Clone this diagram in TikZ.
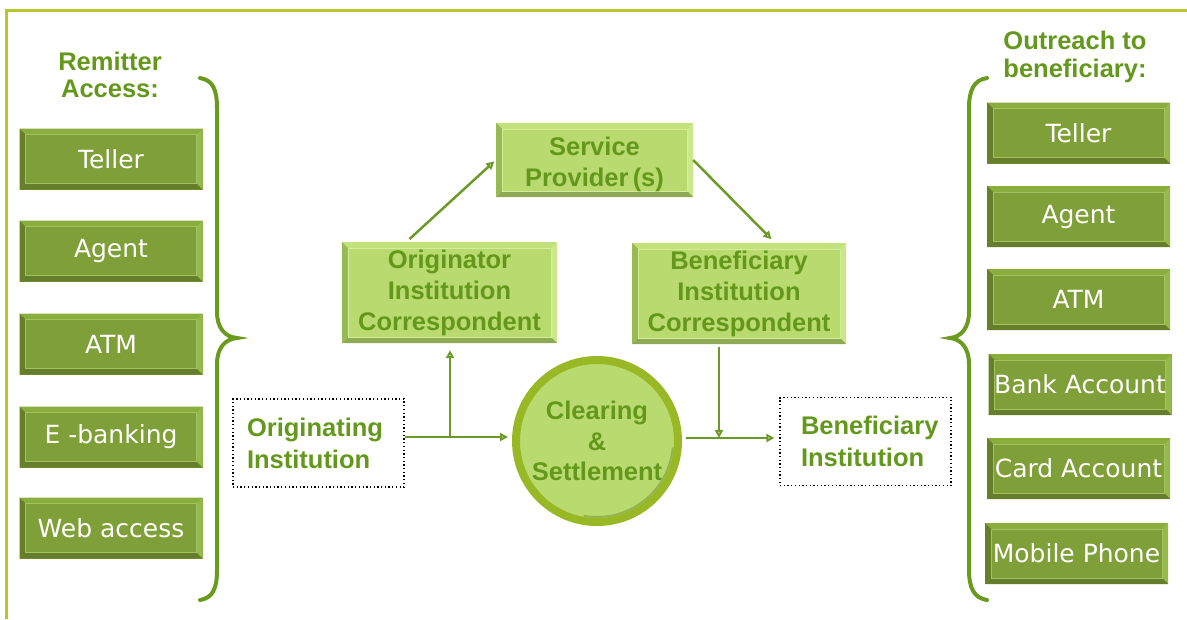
\documentclass[tikz,border=0pt]{standalone}
\usepackage{fontspec}
\setmainfont{Liberation Sans}
\newfontfamily\tilefont{DejaVu Sans}
\usetikzlibrary{arrows.meta}

\definecolor{framegreen}{RGB}{181,199,42}
\definecolor{bracegreen}{RGB}{106,154,30}
\definecolor{textgreen}{RGB}{100,152,28}
\definecolor{linkgreen}{RGB}{108,154,40}
\definecolor{ringgreen}{RGB}{152,184,38}
\definecolor{tiledark}{RGB}{127,160,56}
\definecolor{tiledarktop}{RGB}{138,174,62}
\definecolor{tiledarkright}{RGB}{150,185,75}
\definecolor{tiledarkleft}{RGB}{102,128,42}
\definecolor{tiledarkbot}{RGB}{101,126,44}
\definecolor{tiledarkline}{RGB}{162,194,98}
\definecolor{tilelight}{RGB}{185,218,110}
\definecolor{tilelighttop}{RGB}{194,225,125}
\definecolor{tilelightright}{RGB}{202,231,140}
\definecolor{tilelightleft}{RGB}{152,186,84}
\definecolor{tilelightbot}{RGB}{143,170,84}
\definecolor{tilelightline}{RGB}{210,236,152}

\tikzset{
  bevelbox/.style={fill=#1, inner sep=0pt, path picture={
    \path (path picture bounding box.south west) coordinate (bsw)
          (path picture bounding box.north east) coordinate (bne)
          (path picture bounding box.north west) coordinate (bnw)
          (path picture bounding box.south east) coordinate (bse);
    \fill[#1top] (bnw) -- (bne) -- ([shift={(-6pt,-6pt)}]bne) -- ([shift={(6pt,-6pt)}]bnw) -- cycle;
    \fill[#1right] (bne) -- (bse) -- ([shift={(-6pt,6pt)}]bse) -- ([shift={(-6pt,-6pt)}]bne) -- cycle;
    \fill[#1bot] (bse) -- (bsw) -- ([shift={(6pt,6pt)}]bsw) -- ([shift={(-6pt,6pt)}]bse) -- cycle;
    \fill[#1left] (bsw) -- (bnw) -- ([shift={(6pt,-6pt)}]bnw) -- ([shift={(6pt,6pt)}]bsw) -- cycle;
    \draw[#1line, line width=0.6pt] ([shift={(6pt,6pt)}]bsw) rectangle ([shift={(-6pt,-6pt)}]bne);
  }},
  tile/.style={bevelbox=tiledark, minimum width=183pt, minimum height=61pt,
    text=white, font=\tilefont\fontsize{25}{28}\selectfont},
  midbox/.style={bevelbox=tilelight, align=center, text=textgreen,
    font=\bfseries\fontsize{25.5}{31}\selectfont},
  instbox/.style={draw=black, line width=1.3pt, dash pattern=on 1.3pt off 2.4pt,
    minimum width=171pt, minimum height=88pt, align=left, text=textgreen,
    font=\bfseries\fontsize{25.5}{32}\selectfont},
  heading/.style={align=center, text=textgreen, font=\bfseries\fontsize{25.5}{27.5}\selectfont},
  link/.style={draw=linkgreen, line width=2.5pt, -{Triangle[open,length=8pt,width=8pt]}},
  brace/.style={draw=bracegreen, line width=4pt, line cap=round},
}

\begin{document}
\begin{tikzpicture}[x=1pt,y=-1pt]
  \useasboundingbox (0,0) rectangle (1187,619);
  \draw[framegreen, line width=3pt] (6,619) -- (6,10) -- (1187,10);

  % remitter side
  \node[heading] (remit) at (110,75) {Remitter\\Access:};
  \node[tile] (rteller) at (111,159) {Teller};
  \node[tile] (ragent) at (111,251) {Agent};
  \node[tile] (ratm) at (111,344) {ATM};
  \node[tile] (rebank) at (111,437) {E -banking};
  \node[tile] (rweb) at (111,528) {Web access};
  \draw[brace] (200,78) .. controls (213,80) and (217,90) .. (217,108) -- (217,312)
    .. controls (217,328) and (225,337) .. (237,338)
    .. controls (225,339) and (217,348) .. (217,364) -- (217,570)
    .. controls (217,588) and (213,598) .. (200,600);

  % beneficiary side
  \node[heading] (outreach) at (1075,57) {Outreach to\\beneficiary:};
  \node[tile] (bteller) at (1078.5,133) {Teller};
  \node[tile] (bagent) at (1078.5,216.5) {Agent};
  \node[tile] (batm) at (1078.5,299.5) {ATM};
  \node[tile] (bbank) at (1080,384.5) {Bank Account};
  \node[tile] (bcard) at (1078.5,468.5) {Card Account};
  \node[tile] (bmobile) at (1076.5,553.5) {Mobile Phone};
  \draw[brace] (987,78) .. controls (974,80) and (969,90) .. (969,108) -- (969,312)
    .. controls (969,328) and (961,337) .. (950,338)
    .. controls (961,339) and (969,348) .. (969,364) -- (969,570)
    .. controls (969,588) and (974,598) .. (987,600);

  % middle flow
  \node[midbox, minimum width=197pt, minimum height=74pt] (sp) at (594.5,160) {\rule{0pt}{28pt}Service\\Provider\,(s)};
  \node[midbox, minimum width=215pt, minimum height=101pt] (ocorr) at (449.5,292.5) {Originator\\Institution\\Correspondent};
  \node[midbox, minimum width=214pt, minimum height=101pt] (bcorr) at (739,293.5) {Beneficiary\\Institution\\Correspondent};
  \node[instbox, text width=143pt, inner xsep=14pt] (orig) at (318.5,443) {Originating\\Institution};
  \node[instbox, text width=129pt, inner xsep=21pt] (binst) at (865.5,441.5) {Beneficiary\\Institution};
  \node[circle, draw=ringgreen, line width=8pt, fill=tilelight, minimum size=162pt,
    inner sep=0pt, align=center, text=textgreen,
    font=\bfseries\fontsize{25.5}{30.5}\selectfont] (clear) at (597,441) {Clearing\\\&\\Settlement};
  \draw[tiledarkline!60!tiledark, line width=2pt] ([shift={(-5:76pt)}]clear.center) arc (-5:-100:76pt);

  \coordinate (obranch) at (450,437);
  \coordinate (bbranch) at (719,438);
  \draw[link, shorten >=4pt] (orig.east |- obranch) -- (clear.west |- obranch);
  \draw[link, shorten >=7pt] (obranch) -- (ocorr.south -| obranch);
  \draw[link, shorten <=4pt, shorten >=2pt] ([xshift=-43pt]ocorr.north) -- (sp.west);
  \draw[link, shorten >=5pt] (sp.east) -- ([xshift=36pt]bcorr.north);
  \draw[link, shorten <=3pt] (bcorr.south -| bbranch) -- (bbranch);
  \draw[link, shorten <=4pt, shorten >=5pt] (clear.east |- bbranch) -- (binst.west |- bbranch);
\end{tikzpicture}
\end{document}
